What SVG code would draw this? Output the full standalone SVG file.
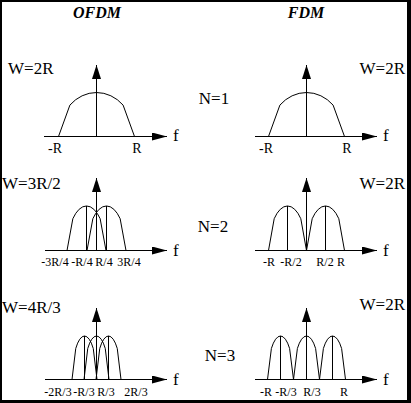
<svg xmlns="http://www.w3.org/2000/svg" width="411" height="403" viewBox="0 0 411 403">
<style>
.ax{stroke:#000;stroke-width:1;fill:none}
.lobe{stroke:#000;stroke-width:1;fill:none}
text{font-family:"Liberation Serif","Times New Roman",serif;fill:#000}
.title{font-size:16px;font-weight:bold;font-style:italic;text-anchor:middle}
.w{font-size:17px}
.n{font-size:17px;text-anchor:middle}
.f{font-size:17px}
.l1{font-size:14px;text-anchor:middle}
.l{font-size:12px;text-anchor:middle}
</style>
<defs>
<marker id="av" markerUnits="userSpaceOnUse" markerWidth="16" markerHeight="12" refX="14" refY="4.5" orient="auto">
<path d="M0,0 L14,4.5 L0,9 Z" fill="#000"/>
</marker>
<marker id="ah" markerUnits="userSpaceOnUse" markerWidth="17" markerHeight="10" refX="15" refY="4" orient="auto">
<path d="M0,0 L15,4 L0,8 Z" fill="#000"/>
</marker>
</defs>
<rect width="411" height="403" fill="#fff"/>
<path d="M0,0 H411 V403 H0 Z M2,2 V400 H407 V2 Z" fill="#000" fill-rule="evenodd"/>

<g id="titles">
<text class="title" x="97" y="18">OFDM</text>
<text class="title" x="306" y="18">FDM</text>
</g>

<g id="nlabels">
<text class="n" x="214" y="104">N=1</text>
<text class="n" x="213" y="232">N=2</text>
<text class="n" x="220" y="361">N=3</text>
</g>

<g id="wlabels">
<text class="w" x="8" y="74">W=2R</text>
<text class="w" x="405" y="74" text-anchor="end">W=2R</text>
<text class="w" x="2" y="189">W=3R/2</text>
<text class="w" x="405" y="189" text-anchor="end">W=2R</text>
<text class="w" x="2" y="313">W=4R/3</text>
<text class="w" x="405" y="310" text-anchor="end">W=2R</text>
</g>

<g id="ofdm1">
<line class="ax" x1="44" y1="136.5" x2="167" y2="136.5" marker-end="url(#ah)"/>
<line class="ax" x1="96.5" y1="136.5" x2="96.5" y2="65" marker-end="url(#av)"/>
<path class="lobe" d="M58.5,136.5 L69.9,105.1 A38,44 0 0 1 123.1,105.1 L134.5,136.5"/>
<text class="l1" x="55" y="153">-R</text>
<text class="l1" x="137" y="153">R</text>
<text class="f" x="173" y="141">f</text>
</g>

<g id="fdm1">
<line class="ax" x1="255" y1="136.5" x2="377" y2="136.5" marker-end="url(#ah)"/>
<line class="ax" x1="306.5" y1="136.5" x2="306.5" y2="65" marker-end="url(#av)"/>
<path class="lobe" d="M268.5,136.5 L279.9,105.1 A38,44 0 0 1 333.1,105.1 L344.5,136.5"/>
<text class="l1" x="266" y="153">-R</text>
<text class="l1" x="347" y="153">R</text>
<text class="f" x="383" y="141">f</text>
</g>

<g id="ofdm2">
<line class="ax" x1="45" y1="250.5" x2="167" y2="250.5" marker-end="url(#ah)"/>
<line class="ax" x1="96.5" y1="250.5" x2="96.5" y2="178" marker-end="url(#av)"/>
<path class="lobe" d="M67,250.5 L72.85,218.7 A19.5,44.5 0 0 1 100.15,218.7 L106,250.5"/>
<path class="lobe" d="M87,250.5 L92.85,218.7 A19.5,44.5 0 0 1 120.15,218.7 L126,250.5"/>
<line class="ax" x1="86.5" y1="206" x2="86.5" y2="250.5"/>
<line class="ax" x1="106.5" y1="206" x2="106.5" y2="250.5"/>
<text class="l" x="55" y="266">-3R/4</text>
<text class="l" x="82" y="266">-R/4</text>
<text class="l" x="104" y="266">R/4</text>
<text class="l" x="129" y="266">3R/4</text>
<text class="f" x="173" y="256">f</text>
</g>

<g id="fdm2">
<line class="ax" x1="255" y1="250.5" x2="377" y2="250.5" marker-end="url(#ah)"/>
<line class="ax" x1="306.5" y1="250.5" x2="306.5" y2="178" marker-end="url(#av)"/>
<path class="lobe" d="M268.5,250.5 L274.2,218.7 A19,44.5 0 0 1 300.8,218.7 L306.5,250.5"/>
<path class="lobe" d="M306.5,250.5 L312.2,218.7 A19,44.5 0 0 1 338.8,218.7 L344.5,250.5"/>
<line class="ax" x1="287.5" y1="206" x2="287.5" y2="250.5"/>
<line class="ax" x1="325.5" y1="206" x2="325.5" y2="250.5"/>
<text class="l" x="269" y="266">-R</text>
<text class="l" x="291" y="266">-R/2</text>
<text class="l" x="325" y="266">R/2</text>
<text class="l" x="341" y="266">R</text>
<text class="f" x="383" y="256">f</text>
</g>

<g id="ofdm3">
<line class="ax" x1="45" y1="379.5" x2="167" y2="379.5" marker-end="url(#ah)"/>
<line class="ax" x1="96.5" y1="379.5" x2="96.5" y2="308" marker-end="url(#av)"/>
<path class="lobe" d="M72,379.5 L75.75,348.44 A12.5,43.5 0 0 1 93.25,348.44 L97,379.5"/>
<path class="lobe" d="M84,379.5 L87.75,348.44 A12.5,43.5 0 0 1 105.25,348.44 L109,379.5"/>
<path class="lobe" d="M96,379.5 L99.75,348.44 A12.5,43.5 0 0 1 117.25,348.44 L121,379.5"/>
<line class="ax" x1="84.5" y1="336" x2="84.5" y2="379.5"/>
<line class="ax" x1="108.5" y1="336" x2="108.5" y2="379.5"/>
<text class="l" x="58" y="396">-2R/3</text>
<text class="l" x="84" y="396">-R/3</text>
<text class="l" x="106" y="396">R/3</text>
<text class="l" x="136" y="396">2R/3</text>
<text class="f" x="173" y="385">f</text>
</g>

<g id="fdm3">
<line class="ax" x1="255" y1="379.5" x2="377" y2="379.5" marker-end="url(#ah)"/>
<line class="ax" x1="306.5" y1="379.5" x2="306.5" y2="308" marker-end="url(#av)"/>
<path class="lobe" d="M267.5,379.5 L271.4,348.44 A13,43.5 0 0 1 289.6,348.44 L293.5,379.5"/>
<path class="lobe" d="M293.5,379.5 L297.4,348.44 A13,43.5 0 0 1 315.6,348.44 L319.5,379.5"/>
<path class="lobe" d="M319.5,379.5 L323.4,348.44 A13,43.5 0 0 1 341.6,348.44 L345.5,379.5"/>
<line class="ax" x1="280.5" y1="336" x2="280.5" y2="379.5"/>
<line class="ax" x1="332.5" y1="336" x2="332.5" y2="379.5"/>
<text class="l" x="266" y="396">-R</text>
<text class="l" x="286" y="396">-R/3</text>
<text class="l" x="312" y="396">R/3</text>
<text class="l" x="344" y="396">R</text>
<text class="f" x="383" y="385">f</text>
</g>
</svg>
